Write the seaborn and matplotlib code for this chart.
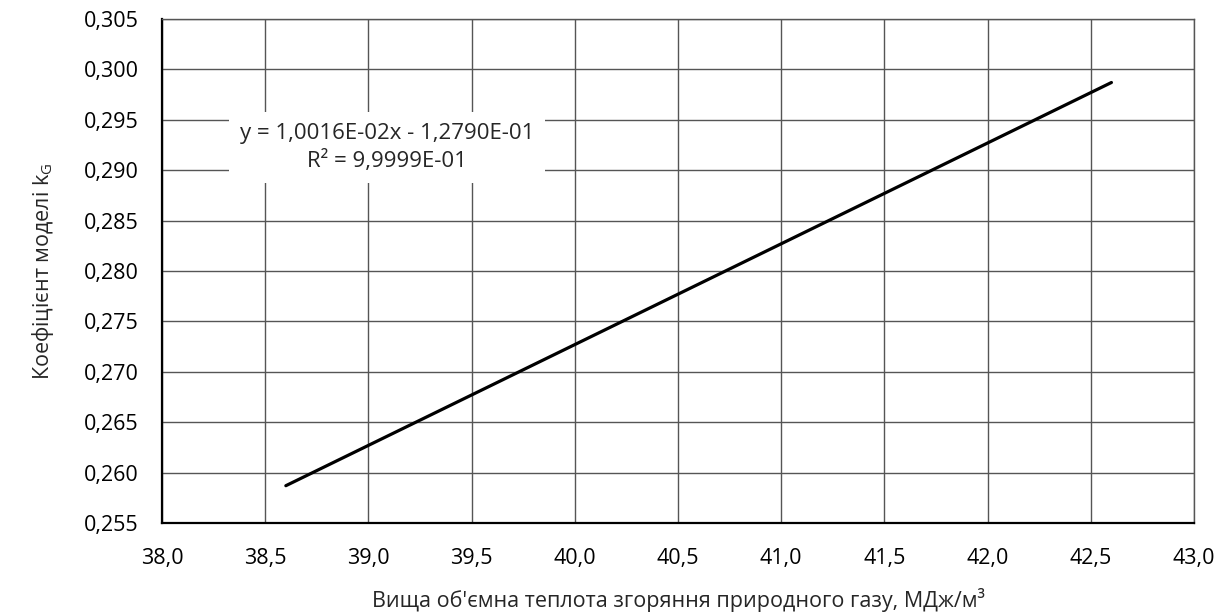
import matplotlib
matplotlib.use("Agg")
import matplotlib.pyplot as plt
import seaborn as sns
import pandas as pd
from matplotlib.ticker import FuncFormatter, MultipleLocator

x_vals = [38.6, 39.0, 39.5, 40.0, 40.5, 41.0, 41.5, 42.0, 42.6]
y_vals = [0.2587, 0.2627, 0.2677, 0.2727, 0.2777, 0.2827, 0.2877, 0.2927, 0.2987]
eq_text = "y = 1,0016E-02x - 1,2790E-01\nR² = 9,9999E-01"
xlabel = "Вища об'ємна теплота згоряння природного газу, МДж/м³"
ylabel = "Коефіцієнт моделі k$_G$"

sns.set_theme(style="white")
plt.rcParams['font.family'] = ['Open Sans', 'DejaVu Sans']
plt.rcParams['mathtext.default'] = 'regular'

df = pd.DataFrame({"x": x_vals, "y": y_vals})

fig = plt.figure(figsize=(12.24, 6.16), dpi=100)
ax = fig.add_axes([162/1224, 1 - 523/616, (1194-162)/1224, (523-19)/616])
sns.lineplot(data=df, x="x", y="y", ax=ax, color="black", linewidth=2.3, zorder=3)

ax.set_xlim(38.0, 43.0)
ax.set_ylim(0.255, 0.305)
ax.xaxis.set_major_locator(MultipleLocator(0.5))
ax.yaxis.set_major_locator(MultipleLocator(0.005))
ax.xaxis.set_major_formatter(FuncFormatter(lambda v, p: f"{v:.1f}".replace(".", ",")))
ax.yaxis.set_major_formatter(FuncFormatter(lambda v, p: f"{v:.3f}".replace(".", ",")))
ax.grid(True, color="#555555", linewidth=1.0)
ax.set_axisbelow(True)
for s in ["top", "right"]:
    ax.spines[s].set_color("#555555")
    ax.spines[s].set_linewidth(1.0)
for s in ["left", "bottom"]:
    ax.spines[s].set_color("black")
    ax.spines[s].set_linewidth(1.6)
ax.tick_params(axis="both", labelsize=15.5, colors="black", length=0)
ax.tick_params(axis="x", pad=18)
ax.tick_params(axis="y", pad=17)
ax.set_xlabel(xlabel, fontsize=15.5, labelpad=14)
ax.set_ylabel(ylabel, fontsize=15.5, labelpad=20)

ax.text(38.0 + (387-162)/(1194-162)*5.0, 0.29225, eq_text, ha="center", va="center",
        fontsize=16, linespacing=1.3, zorder=4,
        bbox=dict(facecolor="white", edgecolor="none", pad=8))

fig.savefig("out.png", dpi=100)
